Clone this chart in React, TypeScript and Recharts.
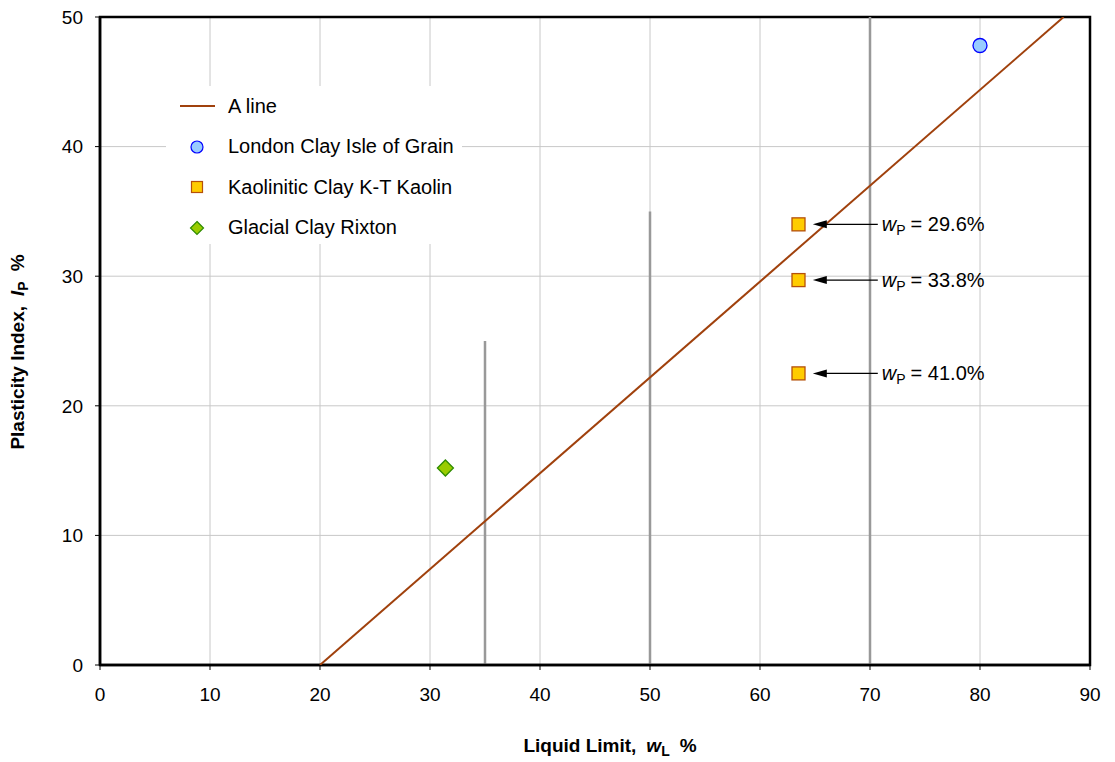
import React from 'react';
import {
    ScatterChart, Scatter, XAxis, YAxis, CartesianGrid, ReferenceLine, ReferenceArea, Label,
} from 'recharts';

// A line end points (wL, Ip)
const aLineX = [20, 87.6];
const aLineY = [0, 50];

const londonClay = [{ x: 80, y: 47.8 }];
const kaolinClay = [
    { x: 63.5, y: 34.0 },
    { x: 63.5, y: 29.7 },
    { x: 63.5, y: 22.5 },
];
const glacialClay = [{ x: 31.4, y: 15.2 }];

const plasticLimits = ['29.6%', '33.8%', '41.0%'];
const arrowTipX = 64.8;

const dividerX = [35, 50, 70];
const dividerTop = [25, 35, 50];

const xTicks = [0, 10, 20, 30, 40, 50, 60, 70, 80, 90];
const yTicks = [0, 10, 20, 30, 40, 50];

const seriesNames = ['A line', 'London Clay Isle of Grain', 'Kaolinitic Clay K-T Kaolin', 'Glacial Clay Rixton'];

const FONT = '"Liberation Sans", Arial, sans-serif';

const aLine = aLineX.map((x, i) => ({ x, y: aLineY[i] }));
const annotations = kaolinClay.map((p, i) => ({ x: arrowTipX, y: p.y, label: plasticLimits[i] }));

const Circle = (props: any) => (
    <circle cx={props.cx} cy={props.cy} r={7} fill="#99ccff" stroke="#0000ff" strokeWidth={1.3} />
);
const Square = (props: any) => (
    <rect x={props.cx - 6.5} y={props.cy - 6.5} width={13} height={13} fill="#ffcc00" stroke="#b5500a" strokeWidth={1.3} />
);
const Diamond = (props: any) => (
    <polygon
        points={`${props.cx},${props.cy - 8} ${props.cx + 8},${props.cy} ${props.cx},${props.cy + 8} ${props.cx - 8},${props.cy}`}
        fill="#99cc00" stroke="#2e8b00" strokeWidth={1.3}
    />
);
const NoDot = () => <g />;

const Arrow = (props: any) => {
    const { cx, cy, payload } = props;
    return (
        <g>
            <line x1={cx + 10} y1={cy} x2={cx + 65} y2={cy} stroke="#000" strokeWidth={1.2} />
            <polygon points={`${cx},${cy} ${cx + 14},${cy - 4} ${cx + 14},${cy + 4}`} fill="#000" />
            <text x={cx + 69} y={cy + 7} fontFamily={FONT} fontSize={20} fill="#000">
                <tspan fontStyle="italic">w</tspan>
                <tspan fontSize={14} dy={4}>P</tspan>
                <tspan dy={-4} dx={5}>= {payload.label}</tspan>
            </text>
        </g>
    );
};

const LegendBox = () => {
    const icons = [
        <line x1={2} y1={10} x2={37} y2={10} stroke="#a0410d" strokeWidth={2} />,
        <circle cx={19} cy={10} r={6} fill="#99ccff" stroke="#0000ff" strokeWidth={1.2} />,
        <rect x={13.5} y={4.5} width={11} height={11} fill="#ffcc00" stroke="#b5500a" strokeWidth={1.2} />,
        <polygon points="19,3.5 25.5,10 19,16.5 12.5,10" fill="#99cc00" stroke="#2e8b00" strokeWidth={1.2} />,
    ];
    return (
        <div style={{
            position: 'absolute', left: 166, top: 86, width: 296, height: 158, background: '#fff',
            fontFamily: FONT, fontSize: 20, color: '#000',
        }}>
            {seriesNames.map((name, i) => (
                <div key={name} style={{ position: 'absolute', left: 12, top: 9 + i * 40.5, display: 'flex', alignItems: 'center', height: 22, whiteSpace: 'nowrap' }}>
                    <svg width={40} height={20}>{icons[i]}</svg>
                    <span style={{ marginLeft: 10 }}>{name}</span>
                </div>
            ))}
        </div>
    );
};

export default function App() {
    return (
        <div style={{ position: 'absolute', left: 0, top: 0, width: 1115, height: 762, background: '#fff' }}>
            <ScatterChart width={1115} height={762} margin={{ top: 17, right: 25, bottom: 37, left: 40 }}>
                <CartesianGrid stroke="#c8c8c8" strokeWidth={1} />
                <XAxis
                    type="number" dataKey="x" domain={[0, 90]} ticks={xTicks} height={60}
                    tickSize={5} tickMargin={18} axisLine={{ stroke: '#000', strokeWidth: 2.5 }}
                    tickLine={{ stroke: '#000' }} tick={{ fill: '#000', fontSize: 19, fontFamily: FONT }}
                    allowDataOverflow
                >
                    <Label content={(p: any) => {
                        const vb = p.viewBox;
                        return (
                            <text x={vb.x + vb.width / 2 + 15} y={752} textAnchor="middle" fontFamily={FONT} fontSize={19} fontWeight="bold" fill="#000">
                                Liquid Limit,<tspan dx={10} fontStyle="italic">w</tspan><tspan fontSize={14} dy={4}>L</tspan><tspan dy={-4} dx={10}>%</tspan>
                            </text>
                        );
                    }} />
                </XAxis>
                <YAxis
                    type="number" dataKey="y" domain={[0, 50]} ticks={yTicks} width={60}
                    tickSize={5} tickMargin={12} axisLine={{ stroke: '#000', strokeWidth: 2.5 }}
                    tickLine={{ stroke: '#000' }} tick={{ fill: '#000', fontSize: 19, fontFamily: FONT }}
                    allowDataOverflow
                >
                    <Label content={() => {
                        const cy = 352;
                        return (
                            <text x={24} y={cy} transform={`rotate(-90, 24, ${cy})`} textAnchor="middle" fontFamily={FONT} fontSize={19} fontWeight="bold" fill="#000">
                                Plasticity Index,<tspan dx={10} fontStyle="italic">I</tspan><tspan fontSize={14} dy={4}>P</tspan><tspan dy={-4} dx={10}>%</tspan>
                            </text>
                        );
                    }} />
                </YAxis>
                {dividerX.map((x, i) => (
                    <ReferenceLine key={x} segment={[{ x, y: 0 }, { x, y: dividerTop[i] }]} stroke="#999999" strokeWidth={2.5} />
                ))}
                <ReferenceArea x1={0} x2={90} y1={0} y2={50} fill="none" stroke="#000" strokeWidth={2.5} />
                <Scatter name={seriesNames[0]} data={aLine} line={{ stroke: '#a0410d', strokeWidth: 2 }} shape={NoDot} isAnimationActive={false} />
                <Scatter name={seriesNames[1]} data={londonClay} shape={Circle} isAnimationActive={false} />
                <Scatter name={seriesNames[2]} data={kaolinClay} shape={Square} isAnimationActive={false} />
                <Scatter name={seriesNames[3]} data={glacialClay} shape={Diamond} isAnimationActive={false} />
                <Scatter data={annotations} shape={Arrow} isAnimationActive={false} />
            </ScatterChart>
            <LegendBox />
        </div>
    );
}
